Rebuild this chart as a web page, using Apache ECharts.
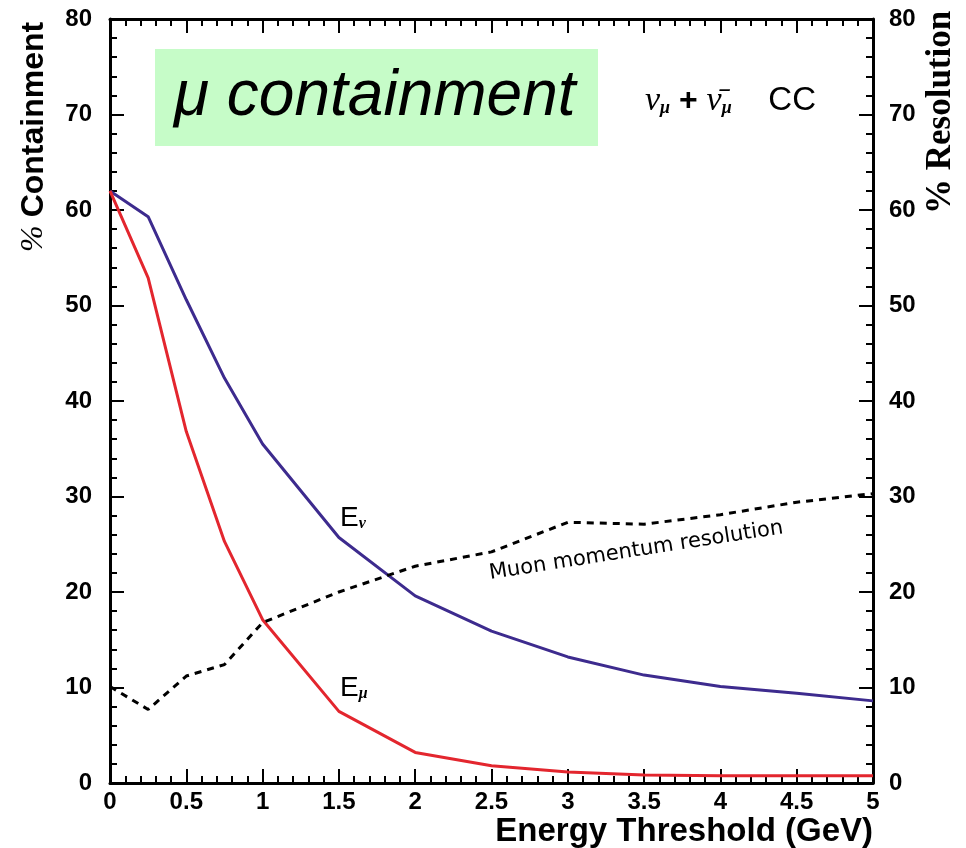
<!DOCTYPE html>
<html>
<head>
<meta charset="utf-8">
<script src="https://cdn.jsdelivr.net/npm/echarts@6/dist/echarts.min.js"></script>
<style>
  html, body { margin: 0; padding: 0; background: #fff; }
  #chart { width: 966px; height: 848px; }
</style>
</head>
<body>
<div id="chart"></div>
<script>
  // energy threshold (GeV)
  const thresholds = [0, 0.25, 0.5, 0.75, 1, 1.5, 2, 2.5, 3, 3.5, 4, 4.5, 5];
  // % containment, neutrino energy
  const eNu = [62.0, 59.3, 50.6, 42.4, 35.5, 25.7, 19.6, 15.9, 13.2, 11.3, 10.1, 9.4, 8.6];
  // % containment, muon energy
  const eMu = [62.0, 52.9, 36.8, 25.3, 17.1, 7.5, 3.2, 1.8, 1.15, 0.85, 0.75, 0.75, 0.75];
  // % muon momentum resolution (right axis)
  const resolution = [10.1, 7.7, 11.2, 12.4, 16.8, 20.0, 22.7, 24.2, 27.3, 27.1, 28.1, 29.4, 30.3];

  const pair = (ys) => thresholds.map((x, i) => [x, ys[i]]);

  const font = 'Liberation Sans, Arial, sans-serif';
  const tickLabel = { color: '#000', fontFamily: font, fontWeight: 'bold', fontSize: 24 };

  const chart = echarts.init(document.getElementById('chart'));

  const xBase = {
    type: 'value', min: 0, max: 5, interval: 0.5,
    axisLine: { show: true, onZero: false, lineStyle: { color: '#000', width: 3 } },
    axisTick: { show: true, inside: true, length: 14, lineStyle: { color: '#000', width: 2 } },
    minorTick: { show: true, splitNumber: 5, length: 7, lineStyle: { color: '#000', width: 2 } },
    splitLine: { show: false }
  };
  const yBase = {
    type: 'value', min: 0, max: 80, interval: 10,
    axisLine: { show: true, onZero: false, lineStyle: { color: '#000', width: 3 } },
    axisTick: { show: true, inside: true, length: 14, lineStyle: { color: '#000', width: 2 } },
    minorTick: { show: true, splitNumber: 5, length: 7, lineStyle: { color: '#000', width: 2 } },
    splitLine: { show: false }
  };

  const option = {
    backgroundColor: '#fff',
    animation: false,
    grid: { left: 110, right: 93, top: 19, bottom: 65 },
    xAxis: [
      Object.assign({}, xBase, {
        position: 'bottom',
        axisLabel: Object.assign({ margin: 7 }, tickLabel),
        name: 'Energy Threshold (GeV)',
        nameLocation: 'end',
        nameGap: 0,
        nameTextStyle: {
          color: '#000', fontFamily: font, fontWeight: 'bold', fontSize: 33,
          align: 'right', verticalAlign: 'top', padding: [32, 0, 0, 0]
        }
      }),
      Object.assign({}, xBase, { position: 'top', axisLabel: { show: false } })
    ],
    yAxis: [
      Object.assign({}, yBase, {
        position: 'left',
        axisLabel: Object.assign({ margin: 18 }, tickLabel)
      }),
      Object.assign({}, yBase, {
        position: 'right',
        axisLabel: Object.assign({ margin: 16 }, tickLabel)
      })
    ],
    series: [
      {
        name: 'E_nu', type: 'line', data: pair(eNu),
        showSymbol: false,
        lineStyle: { color: '#3d2b8e', width: 3 }
      },
      {
        name: 'E_mu', type: 'line', data: pair(eMu),
        showSymbol: false,
        lineStyle: { color: '#e3262e', width: 3 }
      },
      {
        name: 'Muon momentum resolution', type: 'line', xAxisIndex: 0, yAxisIndex: 1,
        data: pair(resolution),
        showSymbol: false,
        lineStyle: { color: '#000', width: 3, type: [7, 6] }
      }
    ],
    graphic: [
      {
        type: 'rect', left: 155, top: 49,
        shape: { width: 443, height: 97 },
        style: { fill: '#c6fcc8' }
      },
      {
        type: 'text', left: 174, top: 65,
        style: {
          text: 'μ containment', fill: '#000',
          font: 'italic 64px Liberation Sans, Arial, sans-serif'
        }
      },
      {
        type: 'text', left: 645, top: 84,
        style: {
          text: '{g|ν}{s|μ}{p| + }{g|ν̄}{s|μ}{c|    CC}',
          rich: {
            g: { font: 'italic 34px Liberation Serif, serif', fill: '#000' },
            s: { font: 'italic bold 18px Liberation Serif, serif', fill: '#000', padding: [14, 0, 0, 0] },
            p: { font: 'bold 32px Liberation Sans, Arial, sans-serif', fill: '#000' },
            c: { font: '33px Liberation Sans, Arial, sans-serif', fill: '#000' }
          }
        }
      },
      {
        type: 'text', x: 18, y: 252, rotation: Math.PI / 2,
        style: {
          text: '{a|% }{b|Containment}',
          rich: {
            a: { font: 'italic 32px Liberation Serif, serif', fill: '#000' },
            b: { font: 'bold 32px Liberation Sans, Arial, sans-serif', fill: '#000' }
          }
        }
      },
      {
        type: 'text', x: 923, y: 214, rotation: Math.PI / 2,
        style: {
          text: '% Resolution',
          font: 'bold 35px Liberation Serif, serif', fill: '#000'
        }
      },
      {
        type: 'text', left: 340, top: 504,
        style: {
          text: '{e|E}{s|ν}',
          rich: {
            e: { font: '28px Liberation Sans, Arial, sans-serif', fill: '#000' },
            s: { font: 'italic bold 16px Liberation Serif, serif', fill: '#000', padding: [12, 0, 0, 0] }
          }
        }
      },
      {
        type: 'text', left: 340, top: 674,
        style: {
          text: '{e|E}{s|μ}',
          rich: {
            e: { font: '28px Liberation Sans, Arial, sans-serif', fill: '#000' },
            s: { font: 'italic bold 16px Liberation Serif, serif', fill: '#000', padding: [12, 0, 0, 0] }
          }
        }
      },
      {
        type: 'text', x: 491, y: 584, rotation: 0.155,
        style: {
          text: 'Muon momentum resolution',
          font: '21px DejaVu Sans, sans-serif', fill: '#000',
          verticalAlign: 'bottom'
        }
      }
    ]
  };

  chart.setOption(option);
</script>
</body>
</html>
